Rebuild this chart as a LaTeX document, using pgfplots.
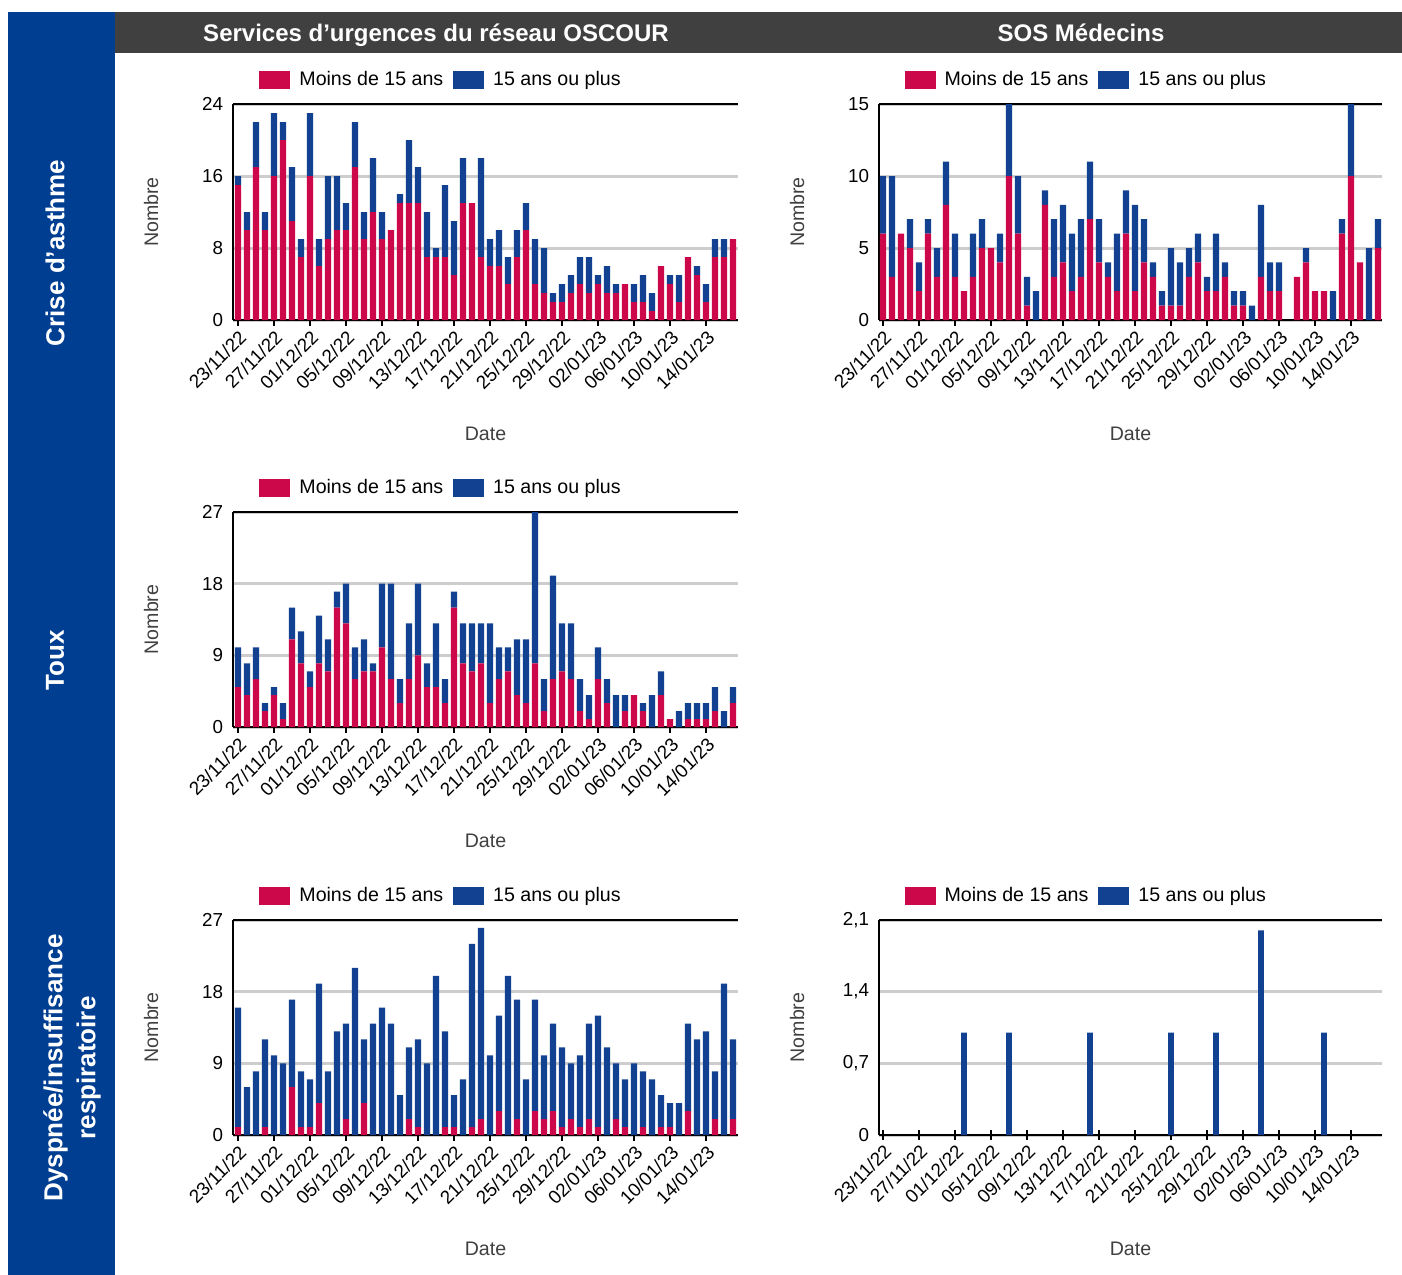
\documentclass[border=0pt]{standalone}
\usepackage{fontspec}
\setmainfont{Liberation Sans}
\usepackage{pgfplots}
\usepackage{pgfplotstable}
\pgfplotsset{compat=1.18}

\definecolor{spfred}{RGB}{204,8,74}
\definecolor{spfblue}{RGB}{18,65,145}
\definecolor{band}{RGB}{0,62,146}
\definecolor{head}{RGB}{64,64,64}
\definecolor{gridgray}{RGB}{205,205,205}
\definecolor{lbl}{RGB}{64,64,64}

\newcommand\tickfont{\fontsize{9.4bp}{10bp}\selectfont}
\newcommand\lblfont{\fontsize{9.8bp}{11bp}\selectfont}
\newcommand\titlefont{\fontsize{12bp}{13bp}\selectfont\bfseries}
\newcommand\rowfont{\fontsize{13bp}{16.5bp}\selectfont\bfseries}

% d = jour depuis le 23/11/22, r = moins de 15 ans, b = 15 ans ou plus
\pgfplotstableread{
d r b
0 15 1
1 10 2
2 17 5
3 10 2
4 16 7
5 20 2
6 11 6
7 7 2
8 16 7
9 6 3
10 9 7
11 10 6
12 10 3
13 17 5
14 9 3
15 12 6
16 9 3
17 10 0
18 13 1
19 13 7
20 13 4
21 7 5
22 7 1
23 7 8
24 5 6
25 13 5
26 13 0
27 7 11
28 6 3
29 6 4
30 4 3
31 7 3
32 10 3
33 4 5
34 3 5
35 2 1
36 2 2
37 3 2
38 4 3
39 3 4
40 4 1
41 3 3
42 3 1
43 4 0
44 2 2
45 2 3
46 1 2
47 6 0
48 4 1
49 2 3
50 7 0
51 5 1
52 2 2
53 7 2
54 7 2
55 9 0
}\asthmeOscour

\pgfplotstableread{
d r b
0 6 4
1 3 7
2 6 0
3 5 2
4 2 2
5 6 1
6 3 2
7 8 3
8 3 3
9 2 0
10 3 3
11 5 2
12 5 0
13 4 2
14 10 5
15 6 4
16 1 2
17 0 2
18 8 1
19 3 4
20 4 4
21 2 4
22 3 4
23 7 4
24 4 3
25 3 1
26 2 4
27 6 3
28 2 6
29 4 3
30 3 1
31 1 1
32 1 4
33 1 3
34 3 2
35 4 2
36 2 1
37 2 4
38 3 1
39 1 1
40 1 1
41 0 1
42 3 5
43 2 2
44 2 2
45 0 0
46 3 0
47 4 1
48 2 0
49 2 0
50 0 2
51 6 1
52 10 5
53 4 0
54 0 5
55 5 2
}\asthmeSos

\pgfplotstableread{
d r b
0 5 5
1 4 4
2 6 4
3 2 1
4 4 1
5 1 2
6 11 4
7 8 4
8 5 2
9 8 6
10 7 4
11 15 2
12 13 5
13 6 4
14 7 4
15 7 1
16 10 8
17 6 12
18 3 3
19 6 7
20 9 9
21 5 3
22 5 8
23 3 3
24 15 2
25 8 5
26 7 6
27 8 5
28 3 10
29 6 4
30 7 3
31 4 7
32 3 8
33 8 19
34 2 4
35 6 13
36 7 6
37 6 7
38 2 4
39 1 3
40 6 4
41 3 3
42 0 4
43 2 2
44 4 0
45 2 1
46 0 4
47 4 3
48 1 0
49 0 2
50 1 2
51 1 2
52 1 2
53 2 3
54 0 2
55 3 2
}\touxOscour

\pgfplotstableread{
d r b
0 1 15
1 0 6
2 0 8
3 1 11
4 0 10
5 0 9
6 6 11
7 1 7
8 1 6
9 4 15
10 0 8
11 0 13
12 2 12
13 0 21
14 4 8
15 0 14
16 0 16
17 0 14
18 0 5
19 2 9
20 1 11
21 0 9
22 0 20
23 1 12
24 1 4
25 0 7
26 1 23
27 2 24
28 0 10
29 3 12
30 0 20
31 2 15
32 0 7
33 3 14
34 2 8
35 3 11
36 1 10
37 2 7
38 1 9
39 2 12
40 1 14
41 0 11
42 2 7
43 1 6
44 0 9
45 1 7
46 0 7
47 1 4
48 1 3
49 0 4
50 3 11
51 0 12
52 0 13
53 2 6
54 0 19
55 2 10
}\dyspOscour

\pgfplotstableread{
d r b
9 0 1
14 0 1
23 0 1
32 0 1
37 0 1
42 0 2
49 0 1
}\dyspSos

\pgfplotsset{
  panel/.style={
    scale only axis,
    width=252.5bp, height=108bp,
    xmin=-0.55, xmax=55.55, ymin=0,
    ybar stacked, bar width=3.1bp,
    axis x line*=box, axis y line*=left,
    axis line style={line width=1bp, black},
    xtick={0,4,...,52},
    xticklabels={23/11/22,27/11/22,01/12/22,05/12/22,09/12/22,13/12/22,17/12/22,21/12/22,25/12/22,29/12/22,02/01/23,06/01/23,10/01/23,14/01/23},
    xtick pos=left, xtick align=outside,
    major tick length=3bp,
    x tick style={line width=0.8bp, black},
    ytick style={draw=none},
    ymajorgrids, grid style={gridgray, line width=1.5bp},
    x tick label style={rotate=45, anchor=north east, font=\tickfont, inner sep=1bp},
    y tick label style={font=\tickfont, xshift=-1.5bp},
    /pgf/number format/assume math mode=true,
    /pgf/number format/use comma,
    xlabel={Date}, ylabel={Nombre},
    every axis x label/.style={at={(axis description cs:0.5,0)}, yshift=-57bp, anchor=center, font=\lblfont, text=lbl},
    every axis y label/.style={at={(axis description cs:0,0.5)}, xshift=-41bp, rotate=90, anchor=center, font=\lblfont, text=lbl},
    legend columns=2,
    legend style={at={(axis description cs:0.414,1.111)}, anchor=center, draw=none, fill=none, font=\lblfont,
      /tikz/every odd column/.append style={column sep=2.5bp},
      /tikz/every even column/.append style={column sep=3bp}},
    legend image code/.code={\fill[##1] (0bp,-4.5bp) rectangle (15.5bp,4.5bp);},
  },
  rightpanel/.style={width=251.5bp, xmin=-0.44, xmax=55.44},
}

\begin{document}
\begin{tikzpicture}
\useasboundingbox (0,0) rectangle (701bp,-637.5bp);
\fill[band] (4bp,-6bp) rectangle (57.5bp,-637.5bp);
\fill[head] (57.5bp,-6bp) rectangle (701bp,-26.5bp);
\node[text=white, font=\titlefont, anchor=base] at (218bp,-20.6bp) {Services d’urgences du réseau OSCOUR};
\node[text=white, font=\titlefont, anchor=base] at (540.5bp,-20.6bp) {SOS Médecins};
\node[text=white, font=\rowfont, rotate=90] at (27.5bp,-126.5bp) {Crise d’asthme};
\node[text=white, font=\rowfont, rotate=90] at (27.5bp,-330bp) {Toux};
\node[text=white, font=\rowfont, rotate=90, align=center] at (36bp,-534bp) {Dyspnée/insuffisance\\respiratoire};

% Crise d'asthme - OSCOUR
\begin{axis}[panel, at={(116.5bp,-160bp)}, anchor=south west, ymax=24, ytick={0,8,16,24}]
\addplot[fill=spfred, draw=none] table[x=d, y=r] {\asthmeOscour};
\addplot[fill=spfblue, draw=none] table[x=d, y=b] {\asthmeOscour};
\legend{Moins de 15 ans, 15 ans ou plus}
\end{axis}

% Crise d'asthme - SOS Medecins
\begin{axis}[panel, rightpanel, at={(439.5bp,-160bp)}, anchor=south west, ymax=15, ytick={0,5,10,15}]
\addplot[fill=spfred, draw=none] table[x=d, y=r] {\asthmeSos};
\addplot[fill=spfblue, draw=none] table[x=d, y=b] {\asthmeSos};
\legend{Moins de 15 ans, 15 ans ou plus}
\end{axis}

% Toux - OSCOUR
\begin{axis}[panel, height=107.5bp, at={(116.5bp,-363.5bp)}, anchor=south west, ymax=27, ytick={0,9,18,27}]
\addplot[fill=spfred, draw=none] table[x=d, y=r] {\touxOscour};
\addplot[fill=spfblue, draw=none] table[x=d, y=b] {\touxOscour};
\legend{Moins de 15 ans, 15 ans ou plus}
\end{axis}

% Dyspnee - OSCOUR
\begin{axis}[panel, height=107.5bp, at={(116.5bp,-567.5bp)}, anchor=south west, ymax=27, ytick={0,9,18,27}]
\addplot[fill=spfred, draw=none] table[x=d, y=r] {\dyspOscour};
\addplot[fill=spfblue, draw=none] table[x=d, y=b] {\dyspOscour};
\legend{Moins de 15 ans, 15 ans ou plus}
\end{axis}

% Dyspnee - SOS Medecins
\begin{axis}[panel, rightpanel, height=107.5bp, at={(439.5bp,-567.5bp)}, anchor=south west,
  ymax=2.1, ytick={0,0.7,1.4,2.1}, xtick align=center, major tick length=5bp, bar width=2.8bp]
\addplot[fill=spfred, draw=none] table[x=d, y=r] {\dyspSos};
\addplot[fill=spfblue, draw=none] table[x=d, y=b] {\dyspSos};
\legend{Moins de 15 ans, 15 ans ou plus}
\end{axis}
\end{tikzpicture}
\end{document}
